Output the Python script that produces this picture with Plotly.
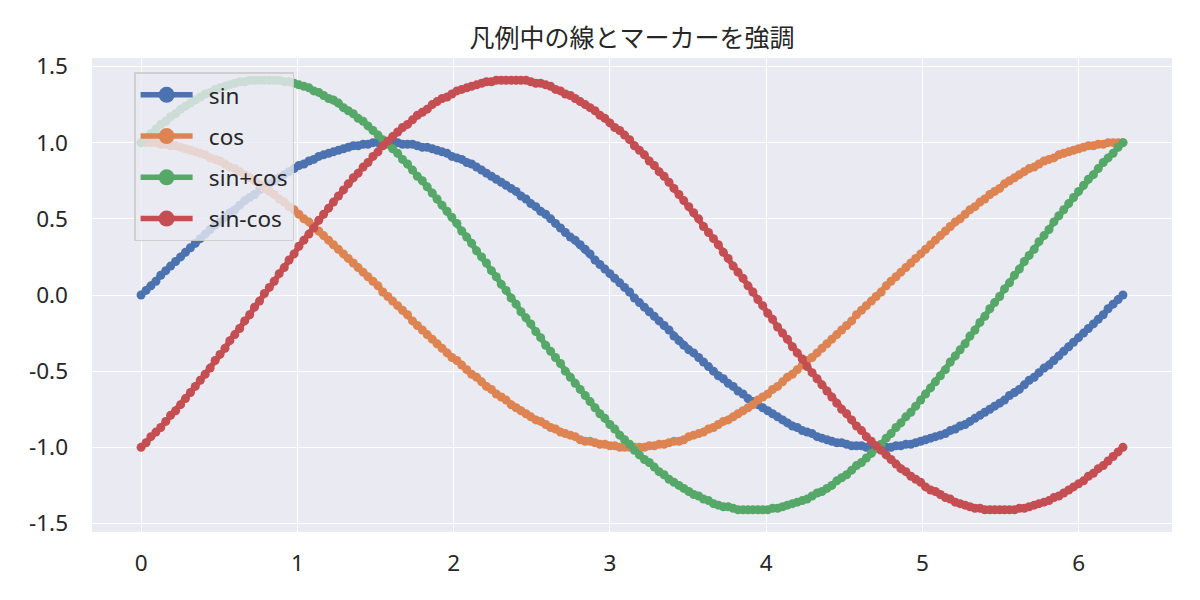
import plotly.graph_objects as go

# ---- data ----
x_vals = [
    0.000, 0.032, 0.063, 0.095, 0.126, 0.158, 0.189, 0.221, 0.253, 0.284,
    0.316, 0.347, 0.379, 0.410, 0.442, 0.474, 0.505, 0.537, 0.568, 0.600,
    0.631, 0.663, 0.695, 0.726, 0.758, 0.789, 0.821, 0.852, 0.884, 0.916,
    0.947, 0.979, 1.010, 1.042, 1.074, 1.105, 1.137, 1.168, 1.200, 1.231,
    1.263, 1.295, 1.326, 1.358, 1.389, 1.421, 1.452, 1.484, 1.516, 1.547,
    1.579, 1.610, 1.642, 1.673, 1.705, 1.737, 1.768, 1.800, 1.831, 1.863,
    1.894, 1.926, 1.958, 1.989, 2.021, 2.052, 2.084, 2.115, 2.147, 2.179,
    2.210, 2.242, 2.273, 2.305, 2.336, 2.368, 2.400, 2.431, 2.463, 2.494,
    2.526, 2.557, 2.589, 2.621, 2.652, 2.684, 2.715, 2.747, 2.778, 2.810,
    2.842, 2.873, 2.905, 2.936, 2.968, 3.000, 3.031, 3.063, 3.094, 3.126,
    3.157, 3.189, 3.221, 3.252, 3.284, 3.315, 3.347, 3.378, 3.410, 3.442,
    3.473, 3.505, 3.536, 3.568, 3.599, 3.631, 3.663, 3.694, 3.726, 3.757,
    3.789, 3.820, 3.852, 3.884, 3.915, 3.947, 3.978, 4.010, 4.041, 4.073,
    4.105, 4.136, 4.168, 4.199, 4.231, 4.262, 4.294, 4.326, 4.357, 4.389,
    4.420, 4.452, 4.483, 4.515, 4.547, 4.578, 4.610, 4.641, 4.673, 4.704,
    4.736, 4.768, 4.799, 4.831, 4.862, 4.894, 4.926, 4.957, 4.989, 5.020,
    5.052, 5.083, 5.115, 5.147, 5.178, 5.210, 5.241, 5.273, 5.304, 5.336,
    5.368, 5.399, 5.431, 5.462, 5.494, 5.525, 5.557, 5.589, 5.620, 5.652,
    5.683, 5.715, 5.746, 5.778, 5.810, 5.841, 5.873, 5.904, 5.936, 5.967,
    5.999, 6.031, 6.062, 6.094, 6.125, 6.157, 6.188, 6.220, 6.252, 6.283,
]

sin_vals = [
    0.00, 0.03, 0.06, 0.09, 0.13, 0.16, 0.19, 0.22, 0.25, 0.28,
    0.31, 0.34, 0.37, 0.40, 0.43, 0.46, 0.48, 0.51, 0.54, 0.56,
    0.59, 0.62, 0.64, 0.66, 0.69, 0.71, 0.73, 0.75, 0.77, 0.79,
    0.81, 0.83, 0.85, 0.86, 0.88, 0.89, 0.91, 0.92, 0.93, 0.94,
    0.95, 0.96, 0.97, 0.98, 0.98, 0.99, 0.99, 1.00, 1.00, 1.00,
    1.00, 1.00, 1.00, 0.99, 0.99, 0.99, 0.98, 0.97, 0.97, 0.96,
    0.95, 0.94, 0.93, 0.91, 0.90, 0.89, 0.87, 0.86, 0.84, 0.82,
    0.80, 0.78, 0.76, 0.74, 0.72, 0.70, 0.68, 0.65, 0.63, 0.60,
    0.58, 0.55, 0.53, 0.50, 0.47, 0.44, 0.41, 0.38, 0.36, 0.33,
    0.30, 0.27, 0.23, 0.20, 0.17, 0.14, 0.11, 0.08, 0.05, 0.02,
    -0.02, -0.05, -0.08, -0.11, -0.14, -0.17, -0.20, -0.23, -0.27, -0.30,
    -0.33, -0.36, -0.38, -0.41, -0.44, -0.47, -0.50, -0.53, -0.55, -0.58,
    -0.60, -0.63, -0.65, -0.68, -0.70, -0.72, -0.74, -0.76, -0.78, -0.80,
    -0.82, -0.84, -0.86, -0.87, -0.89, -0.90, -0.91, -0.93, -0.94, -0.95,
    -0.96, -0.97, -0.97, -0.98, -0.99, -0.99, -0.99, -1.00, -1.00, -1.00,
    -1.00, -1.00, -1.00, -0.99, -0.99, -0.98, -0.98, -0.97, -0.96, -0.95,
    -0.94, -0.93, -0.92, -0.91, -0.89, -0.88, -0.86, -0.85, -0.83, -0.81,
    -0.79, -0.77, -0.75, -0.73, -0.71, -0.69, -0.66, -0.64, -0.62, -0.59,
    -0.56, -0.54, -0.51, -0.48, -0.46, -0.43, -0.40, -0.37, -0.34, -0.31,
    -0.28, -0.25, -0.22, -0.19, -0.16, -0.13, -0.09, -0.06, -0.03, 0.00,
]

cos_vals = [
    1.00, 1.00, 1.00, 1.00, 0.99, 0.99, 0.98, 0.98, 0.97, 0.96,
    0.95, 0.94, 0.93, 0.92, 0.90, 0.89, 0.88, 0.86, 0.84, 0.83,
    0.81, 0.79, 0.77, 0.75, 0.73, 0.70, 0.68, 0.66, 0.63, 0.61,
    0.58, 0.56, 0.53, 0.50, 0.48, 0.45, 0.42, 0.39, 0.36, 0.33,
    0.30, 0.27, 0.24, 0.21, 0.18, 0.15, 0.12, 0.09, 0.06, 0.02,
    -0.01, -0.04, -0.07, -0.10, -0.13, -0.17, -0.20, -0.23, -0.26, -0.29,
    -0.32, -0.35, -0.38, -0.41, -0.43, -0.46, -0.49, -0.52, -0.54, -0.57,
    -0.60, -0.62, -0.65, -0.67, -0.69, -0.72, -0.74, -0.76, -0.78, -0.80,
    -0.82, -0.83, -0.85, -0.87, -0.88, -0.90, -0.91, -0.92, -0.93, -0.95,
    -0.96, -0.96, -0.97, -0.98, -0.98, -0.99, -0.99, -1.00, -1.00, -1.00,
    -1.00, -1.00, -1.00, -0.99, -0.99, -0.98, -0.98, -0.97, -0.96, -0.96,
    -0.95, -0.93, -0.92, -0.91, -0.90, -0.88, -0.87, -0.85, -0.83, -0.82,
    -0.80, -0.78, -0.76, -0.74, -0.72, -0.69, -0.67, -0.65, -0.62, -0.60,
    -0.57, -0.54, -0.52, -0.49, -0.46, -0.43, -0.41, -0.38, -0.35, -0.32,
    -0.29, -0.26, -0.23, -0.20, -0.17, -0.13, -0.10, -0.07, -0.04, -0.01,
    0.02, 0.06, 0.09, 0.12, 0.15, 0.18, 0.21, 0.24, 0.27, 0.30,
    0.33, 0.36, 0.39, 0.42, 0.45, 0.48, 0.50, 0.53, 0.56, 0.58,
    0.61, 0.63, 0.66, 0.68, 0.70, 0.73, 0.75, 0.77, 0.79, 0.81,
    0.83, 0.84, 0.86, 0.88, 0.89, 0.90, 0.92, 0.93, 0.94, 0.95,
    0.96, 0.97, 0.98, 0.98, 0.99, 0.99, 1.00, 1.00, 1.00, 1.00,
]

sum_vals = [
    1.00, 1.03, 1.06, 1.09, 1.12, 1.14, 1.17, 1.19, 1.22, 1.24,
    1.26, 1.28, 1.30, 1.32, 1.33, 1.35, 1.36, 1.37, 1.38, 1.39,
    1.40, 1.40, 1.41, 1.41, 1.41, 1.41, 1.41, 1.41, 1.41, 1.40,
    1.40, 1.39, 1.38, 1.37, 1.36, 1.34, 1.33, 1.31, 1.29, 1.28,
    1.26, 1.23, 1.21, 1.19, 1.16, 1.14, 1.11, 1.08, 1.05, 1.02,
    0.99, 0.96, 0.93, 0.89, 0.86, 0.82, 0.78, 0.75, 0.71, 0.67,
    0.63, 0.59, 0.55, 0.51, 0.47, 0.42, 0.38, 0.34, 0.29, 0.25,
    0.21, 0.16, 0.12, 0.07, 0.03, -0.02, -0.06, -0.11, -0.15, -0.19,
    -0.24, -0.28, -0.33, -0.37, -0.41, -0.45, -0.50, -0.54, -0.58, -0.62,
    -0.66, -0.70, -0.74, -0.78, -0.81, -0.85, -0.88, -0.92, -0.95, -0.98,
    -1.02, -1.05, -1.08, -1.10, -1.13, -1.16, -1.18, -1.21, -1.23, -1.25,
    -1.27, -1.29, -1.31, -1.32, -1.34, -1.35, -1.37, -1.38, -1.39, -1.39,
    -1.40, -1.41, -1.41, -1.41, -1.41, -1.41, -1.41, -1.41, -1.40, -1.40,
    -1.39, -1.38, -1.37, -1.36, -1.35, -1.34, -1.32, -1.30, -1.29, -1.27,
    -1.25, -1.22, -1.20, -1.18, -1.15, -1.12, -1.10, -1.07, -1.04, -1.01,
    -0.98, -0.94, -0.91, -0.87, -0.84, -0.80, -0.77, -0.73, -0.69, -0.65,
    -0.61, -0.57, -0.53, -0.49, -0.44, -0.40, -0.36, -0.32, -0.27, -0.23,
    -0.18, -0.14, -0.09, -0.05, -0.01, 0.04, 0.08, 0.13, 0.17, 0.22,
    0.26, 0.30, 0.35, 0.39, 0.43, 0.48, 0.52, 0.56, 0.60, 0.64,
    0.68, 0.72, 0.76, 0.79, 0.83, 0.87, 0.90, 0.93, 0.97, 1.00,
]

diff_vals = [
    -1.00, -0.97, -0.93, -0.90, -0.87, -0.83, -0.79, -0.76, -0.72, -0.68,
    -0.64, -0.60, -0.56, -0.52, -0.48, -0.43, -0.39, -0.35, -0.30, -0.26,
    -0.22, -0.17, -0.13, -0.08, -0.04, 0.01, 0.05, 0.09, 0.14, 0.18,
    0.23, 0.27, 0.32, 0.36, 0.40, 0.44, 0.49, 0.53, 0.57, 0.61,
    0.65, 0.69, 0.73, 0.77, 0.80, 0.84, 0.87, 0.91, 0.94, 0.98,
    1.01, 1.04, 1.07, 1.10, 1.12, 1.15, 1.18, 1.20, 1.22, 1.25,
    1.27, 1.29, 1.30, 1.32, 1.34, 1.35, 1.36, 1.37, 1.38, 1.39,
    1.40, 1.40, 1.41, 1.41, 1.41, 1.41, 1.41, 1.41, 1.41, 1.40,
    1.39, 1.39, 1.38, 1.37, 1.35, 1.34, 1.32, 1.31, 1.29, 1.27,
    1.25, 1.23, 1.21, 1.18, 1.16, 1.13, 1.10, 1.08, 1.05, 1.02,
    0.98, 0.95, 0.92, 0.88, 0.85, 0.81, 0.78, 0.74, 0.70, 0.66,
    0.62, 0.58, 0.54, 0.50, 0.45, 0.41, 0.37, 0.33, 0.28, 0.24,
    0.19, 0.15, 0.11, 0.06, 0.02, -0.03, -0.07, -0.12, -0.16, -0.21,
    -0.25, -0.29, -0.34, -0.38, -0.42, -0.47, -0.51, -0.55, -0.59, -0.63,
    -0.67, -0.71, -0.75, -0.78, -0.82, -0.86, -0.89, -0.93, -0.96, -0.99,
    -1.02, -1.05, -1.08, -1.11, -1.14, -1.16, -1.19, -1.21, -1.23, -1.26,
    -1.28, -1.29, -1.31, -1.33, -1.34, -1.36, -1.37, -1.38, -1.39, -1.40,
    -1.40, -1.41, -1.41, -1.41, -1.41, -1.41, -1.41, -1.41, -1.40, -1.40,
    -1.39, -1.38, -1.37, -1.36, -1.35, -1.33, -1.32, -1.30, -1.28, -1.26,
    -1.24, -1.22, -1.19, -1.17, -1.14, -1.12, -1.09, -1.06, -1.03, -1.00,
]

series_names = ["sin", "cos", "sin+cos", "sin-cos"]
series_values = [sin_vals, cos_vals, sum_vals, diff_vals]
series_colors = ["#4C72B0", "#DD8452", "#55A868", "#C44E52"]

x_ticks = [0, 1, 2, 3, 4, 5, 6]
x_tick_labels = ["0", "1", "2", "3", "4", "5", "6"]
y_ticks = [-1.5, -1.0, -0.5, 0.0, 0.5, 1.0, 1.5]
y_tick_labels = ["-1.5", "-1.0", "-0.5", "0.0", "0.5", "1.0", "1.5"]

title_text = "凡例中の線とマーカーを強調"

LATIN_FONT = "Noto Sans, Noto Sans CJK JP, sans-serif"
CJK_FONT = "Noto Sans CJK JP, Noto Sans, sans-serif"
TEXT_COLOR = "#262626"
TICK_SIZE = 22.5

fig = go.Figure()

# actual curves
for name, vals, col in zip(series_names, series_values, series_colors):
    fig.add_trace(go.Scatter(
        x=x_vals, y=vals, mode="lines+markers", name=name,
        line=dict(color=col, width=5.5),
        marker=dict(color=col, size=9, line=dict(width=0)),
        showlegend=False,
    ))

# legend proxies with emphasized line and marker
for i, (name, col) in enumerate(zip(series_names, series_colors)):
    fig.add_trace(go.Scatter(
        x=[None], y=[None], mode="lines+markers",
        name="\u2002" + name,
        line=dict(color=col, width=5.5),
        marker=dict(color=col, size=16, line=dict(width=0)),
        showlegend=True, legendgroup=f"g{i}",
    ))

# the page is rendered with an 8px body margin, so margins are offset by 8px
fig.update_layout(
    width=1200, height=600,
    paper_bgcolor="white",
    plot_bgcolor="#EAEAF2",
    margin=dict(l=84, r=36, t=50, b=76),
    font=dict(family=LATIN_FONT, color=TEXT_COLOR, size=TICK_SIZE),
    title=dict(text=title_text, x=0.52, xanchor="center",
               y=0.95, yanchor="middle",
               font=dict(family=CJK_FONT, size=25, color=TEXT_COLOR)),
    xaxis=dict(range=[-0.314, 6.597], tickvals=x_ticks, ticktext=x_tick_labels,
               showgrid=True, gridcolor="white", gridwidth=1.3,
               zeroline=False, showline=False, ticks="", automargin=False,
               tickfont=dict(family=LATIN_FONT, size=TICK_SIZE, color=TEXT_COLOR),
               ticklabelstandoff=15),
    yaxis=dict(range=[-1.556, 1.556], tickvals=y_ticks, ticktext=y_tick_labels,
               showgrid=True, gridcolor="white", gridwidth=1.3,
               zeroline=False, showline=False, ticks="", automargin=False,
               tickfont=dict(family=LATIN_FONT, size=TICK_SIZE, color=TEXT_COLOR),
               ticklabelstandoff=23),
    legend=dict(x=0.039, y=0.97, xanchor="left", yanchor="top",
                bgcolor="rgba(234,234,242,0.8)",
                bordercolor="rgba(204,204,204,0.9)", borderwidth=1.5,
                font=dict(family=LATIN_FONT, size=TICK_SIZE, color=TEXT_COLOR),
                itemwidth=52, tracegroupgap=9, traceorder="grouped"),
)

fig.write_html("out.html")
